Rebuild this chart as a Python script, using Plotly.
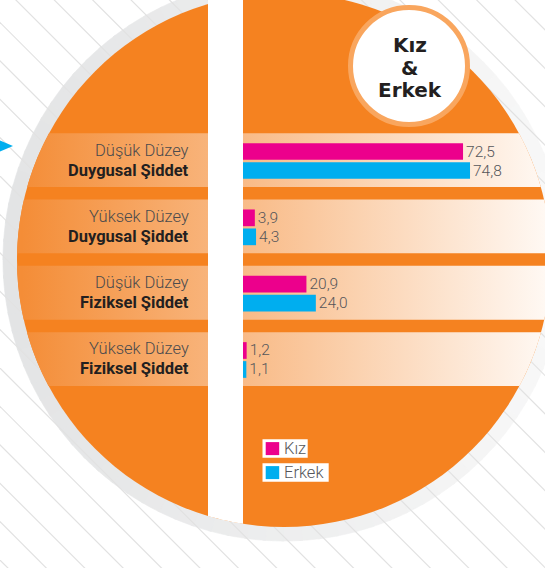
import numpy as np
import plotly.graph_objects as go

# ---------------- data ----------------
level_labels = ["Düşük Düzey", "Yüksek Düzey", "Düşük Düzey", "Yüksek Düzey"]
type_labels = ["Duygusal Şiddet", "Duygusal Şiddet", "Fiziksel Şiddet", "Fiziksel Şiddet"]
categories = [f"{a} {b}" for a, b in zip(level_labels, type_labels)]
kiz_values = [72.5, 3.9, 20.9, 1.2]
erkek_values = [74.8, 4.3, 24.0, 1.1]
series_names = ["Kız", "Erkek"]
series_colors = ["#ec008c", "#00aeef"]
badge_lines = ["Kız", "&", "Erkek"]

# ---------------- geometry (pixels) ----------------
W, H = 545, 568
CX, CY, R = 284.0, 260.0, 267.0
R_RING = 281.0
STRIPE_L, STRIPE_R = 208.0, 243.0
BAR_X0 = 243.0
PX_PER_UNIT = 3.035
ROW0 = 161.0
ROW_PITCH = 66.33
ORANGE = "#f58220"
TEXT_DARK = "#231f20"
TEXT_GRAY = "#55565a"


def hex_mix(c0, c1, t):
    a = [int(c0[i:i + 2], 16) for i in (1, 3, 5)]
    b = [int(c1[i:i + 2], 16) for i in (1, 3, 5)]
    return "#" + "".join(f"{int(round(a[i] + (b[i] - a[i]) * t)):02x}" for i in range(3))


def path_from(points):
    return "M " + " L ".join(f"{x:.2f},{y:.2f}" for x, y in points) + " Z"


def half_width(y):
    return np.sqrt(np.clip(R ** 2 - (y - CY) ** 2, 0, None))


shapes = []

# grey ring (segmented for a soft left->right fade)
N = 96
for k in range(N):
    t0 = 2 * np.pi * k / N
    t1 = 2 * np.pi * (k + 1) / N + 0.01
    ts = np.linspace(t0, t1, 6)
    outer = [(CX + R_RING * np.cos(t), CY + R_RING * np.sin(t)) for t in ts]
    inner = [(CX + (R - 2) * np.cos(t), CY + (R - 2) * np.sin(t)) for t in ts[::-1]]
    col = hex_mix("#e3e4e5", "#f8f8f8", (1 + np.cos((t0 + t1) / 2)) / 2)
    shapes.append(dict(type="path", path=path_from(outer + inner), xref="x", yref="y",
                       fillcolor=col, line=dict(color=col, width=0.6), layer="below"))

# diagonal background hatch
for c in np.arange(483.3 - 38.4 * 28, 620, 38.4):
    shapes.append(dict(type="line", xref="x", yref="y", x0=-20, y0=c - 20, x1=W + 20, y1=c + W + 20,
                       line=dict(color="#e2e2e2", width=1.2), layer="below"))

# big orange disc
shapes.append(dict(type="circle", xref="x", yref="y", x0=CX - R, x1=CX + R, y0=CY - R, y1=CY + R,
                   fillcolor=ORANGE, line=dict(width=0), layer="below"))

# white vertical stripe clipped to the disc bottom
xs = np.linspace(STRIPE_L, STRIPE_R, 12)
stripe_pts = [(STRIPE_L, -20)] + [(x, CY + np.sqrt(R ** 2 - (x - CX) ** 2)) for x in xs] + [(STRIPE_R, -20)]
shapes.append(dict(type="path", path=path_from(stripe_pts), xref="x", yref="y",
                   fillcolor="white", line=dict(width=0), layer="below"))

# badge
shapes.append(dict(type="circle", xref="x", yref="y", x0=409 - 58.5, x1=409 + 58.5, y0=66 - 58.5, y1=66 + 58.5,
                   fillcolor="white", line=dict(color="#f9a65e", width=5), layer="below"))

# blue arrow at the left edge
shapes.append(dict(type="path", path="M 0,140.5 L 13,146 L 0,151.5 Z", xref="x", yref="y",
                   fillcolor="#00aeef", line=dict(width=0), layer="below"))

# legend boxes
legend_rows = [(439.3, 457.7, 307.7), (463.3, 481.7, 328.7)]
for (y0, y1, xr), col in zip(legend_rows, series_colors):
    shapes.append(dict(type="rect", xref="x", yref="y", x0=262.5, x1=xr, y0=y0, y1=y1,
                       fillcolor="white", line=dict(width=0), layer="below"))
    shapes.append(dict(type="rect", xref="x", yref="y", x0=265.7, x1=279.2, y0=y0 + 2.8, y1=y1 - 2.6,
                       fillcolor=col, line=dict(width=0), layer="below"))

fig = go.Figure()

# gradient row bands (left and right of the stripe)
grad = dict(type="horizontal", colorscale=[[0, "#f48d37"], [1, "#fff9f4"]], start=22, stop=548)
for i in range(len(categories)):
    cy = ROW0 + i * ROW_PITCH
    top, bot = cy - 27.8, cy + 26.0
    ys = np.linspace(top, bot, 30)
    left = [(CX - half_width(y), y) for y in ys] + [(STRIPE_L, bot), (STRIPE_L, top)]
    right = [(STRIPE_R, top)] + [(CX + half_width(y), y) for y in ys] + [(STRIPE_R, bot)]
    for poly in (left, right):
        fig.add_trace(go.Scatter(x=[p[0] for p in poly], y=[p[1] for p in poly], fill="toself",
                                 mode="none", fillgradient=grad, hoverinfo="skip", showlegend=False,
                                 xaxis="x", yaxis="y"))

# bars
for name, vals, col in zip(series_names, [kiz_values, erkek_values], series_colors):
    fig.add_trace(go.Bar(
        y=categories, x=vals, name=name, orientation="h", marker=dict(color=col, line=dict(width=0)),
        texttemplate="%{x:.1f}", textposition="outside", constraintext="none", cliponaxis=False,
        outsidetextfont=dict(family="Roboto", size=15.5, color=TEXT_GRAY, weight=300),
        xaxis="x2", yaxis="y2", showlegend=False, hoverinfo="skip"))

annotations = []
for cat, lvl, typ in zip(categories, level_labels, type_labels):
    annotations.append(dict(x=191, xref="x", y=cat, yref="y2", text=lvl, showarrow=False,
                            xanchor="right", yanchor="middle", yshift=11,
                            font=dict(family="Roboto", size=16.5, color="#4b4b4d", weight=300)))
    annotations.append(dict(x=191, xref="x", y=cat, yref="y2", text=f"<b>{typ}</b>", showarrow=False,
                            xanchor="right", yanchor="middle", yshift=-9,
                            font=dict(family="Roboto", size=16.5, color=TEXT_DARK)))

for txt, yy in zip(badge_lines, [45, 68, 90]):
    annotations.append(dict(x=409.5, xref="x", y=yy, yref="y", text=f"<b>{txt}</b>", showarrow=False,
                            xanchor="center", yanchor="middle",
                            font=dict(family="DejaVu Sans", size=20, color=TEXT_DARK)))

for (y0, y1, xr), name in zip(legend_rows, series_names):
    annotations.append(dict(x=281.5, xref="x", y=(y0 + y1) / 2, yref="y", text=name, showarrow=False,
                            xanchor="left", yanchor="middle",
                            font=dict(family="Roboto", size=16.5, color=TEXT_GRAY, weight=300)))

fig.update_layout(
    width=W, height=H, margin=dict(l=0, r=0, t=0, b=0),
    paper_bgcolor="white", plot_bgcolor="white",
    showlegend=False, hovermode=False,
    separators=",.",
    barmode="group", bargap=0.427, bargroupgap=0.12,
    xaxis=dict(range=[0, W], visible=False, fixedrange=True),
    yaxis=dict(range=[H, 0], visible=False, fixedrange=True),
    xaxis2=dict(overlaying="x", anchor="y2", visible=False, fixedrange=True,
                range=[-BAR_X0 / PX_PER_UNIT, (W - BAR_X0) / PX_PER_UNIT]),
    yaxis2=dict(overlaying="y", anchor="x2", visible=False, fixedrange=True, type="category",
                categoryorder="array", categoryarray=categories,
                range=[(H - ROW0) / ROW_PITCH, -ROW0 / ROW_PITCH]),
    shapes=shapes,
    annotations=annotations,
)

fig.write_html("out.html", config={"displayModeBar": False},
               post_script="document.body.style.margin='0';document.body.style.overflow='hidden';")
